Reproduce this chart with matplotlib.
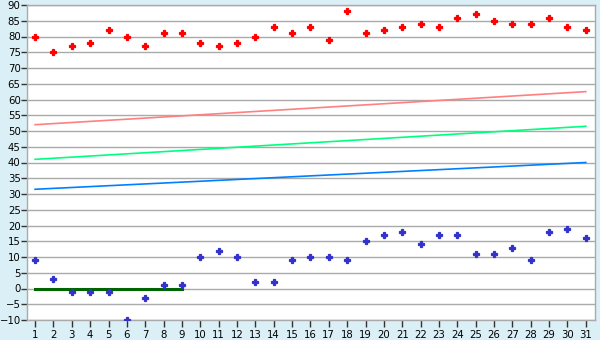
import matplotlib
matplotlib.use("Agg")
from matplotlib import pyplot as plt

days = list(range(1, 32))

red_pts = [80, 75, 77, 78, 82, 80, 77, 81, 81, 78, 77, 78, 80, 83, 81, 83,
           79, 88, 81, 82, 83, 84, 83, 86, 87, 85, 84, 84, 86, 83, 82]
blue_pts = [9, 3, -1, -1, -1, -10, -3, 1, 1, 10, 12, 10, 2, 2, 9, 10,
            10, 9, 15, 17, 18, 14, 17, 17, 11, 11, 13, 9, 18, 19, 16]

line_x = [1, 31]
pink_line = [52, 62.5]
green_line = [41, 51.5]
blue_line = [31.5, 40]

zero_x = [1, 9]
zero_y = [0, 0]

yticks = list(range(-10, 95, 5))

fig = plt.figure(figsize=(6, 3.4), dpi=100, facecolor='#daeff6')
ax = fig.add_axes([27 / 600, 20 / 340, 568 / 600, 315 / 340])
ax.set_facecolor('white')

for y in yticks:
    ax.axhline(y, color='#aaaaaa', linewidth=1, zorder=1)

ax.plot(line_x, pink_line, color='#ff8080', linewidth=1.2, zorder=2)
ax.plot(line_x, green_line, color='#00ff80', linewidth=1.2, zorder=2)
ax.plot(line_x, blue_line, color='#0080ff', linewidth=1.2, zorder=2)
ax.plot(zero_x, zero_y, color='#006400', linewidth=2.2, zorder=3)

ax.plot(days, red_pts, linestyle='none', marker='P', markersize=4.6,
        color='#ff0000', markeredgecolor='#ff0000', markeredgewidth=0.9, zorder=4)
ax.plot(days, blue_pts, linestyle='none', marker='P', markersize=4.6,
        color='#3333cc', markeredgecolor='#3333cc', markeredgewidth=0.9, zorder=4)

ax.set_xlim(0.56, 31.5)
ax.set_ylim(-10, 90)
ax.set_xticks(days)
ax.set_yticks(yticks)
ax.tick_params(axis='both', colors='#333333', labelcolor='black',
               labelsize=7.3, length=4, width=1)
ax.tick_params(axis='y', pad=0.5)
ax.tick_params(axis='x', length=5, pad=2)
for s in ax.spines.values():
    s.set_color('#aaaaaa')
    s.set_linewidth(1)

fig.savefig('out.png', dpi=100, facecolor=fig.get_facecolor())
